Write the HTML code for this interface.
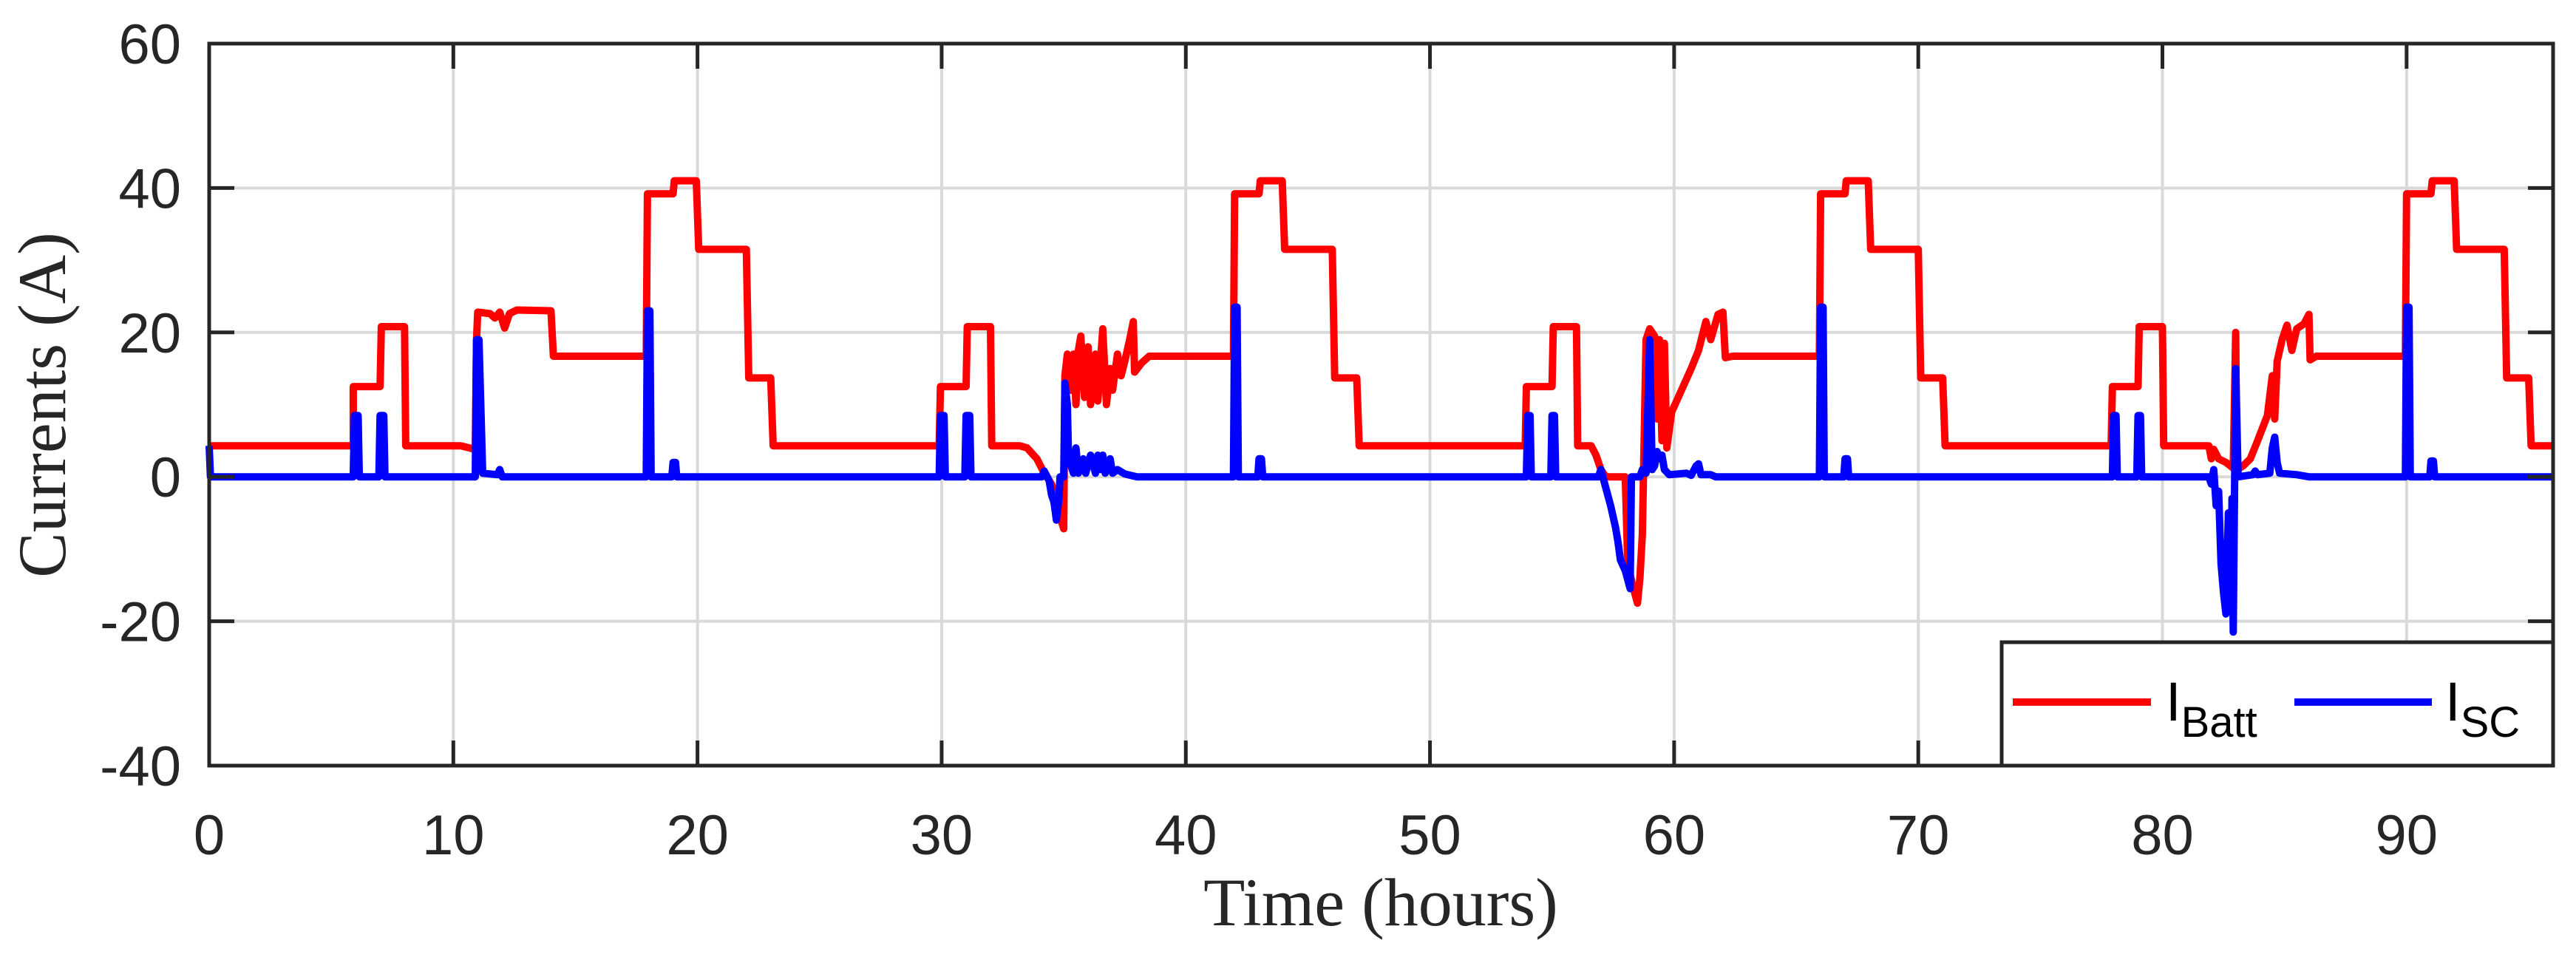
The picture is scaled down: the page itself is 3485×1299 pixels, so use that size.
<!DOCTYPE html>
<html><head><meta charset="utf-8"><style>
html,body{margin:0;padding:0;background:#fff;}
svg{display:block;}
</style></head>
<body>
<svg id="chart" xmlns="http://www.w3.org/2000/svg" width="3485" height="1299" viewBox="0 0 3485 1299">
<rect x="0" y="0" width="3485" height="1299" fill="#fff"/>
<g id="grid"></g>
<g id="series"></g>
<g id="axes"></g>
<text x="1868" y="1252" font-family="Liberation Serif, serif" font-size="92" fill="#262626" text-anchor="middle">Time (hours)</text>
<text transform="translate(88,548) rotate(-90)" x="0" y="0" font-family="Liberation Serif, serif" font-size="92" fill="#262626" text-anchor="middle">Currents (A)</text>
<g>
<rect x="2708" y="869" width="746" height="167" fill="#fff" stroke="#262626" stroke-width="5"/>
<line x1="2723" y1="950" x2="2910" y2="950" stroke="#ff0000" stroke-width="10"/>
<text x="2930" y="975" font-family="Liberation Sans, sans-serif" font-size="74" fill="#000">I<tspan font-size="58" dy="22">Batt</tspan></text>
<line x1="3104" y1="950" x2="3290" y2="950" stroke="#0000ff" stroke-width="10"/>
<text x="3308" y="975" font-family="Liberation Sans, sans-serif" font-size="74" fill="#000">I<tspan font-size="58" dy="22">SC</tspan></text>
</g>
</svg>
<script>
const xTicks = [0,10,20,30,40,50,60,70,80,90];
const yTicks = [-40,-20,0,20,40,60];
const battTime = [0,5.9,5.9,7.0,7.05,8.0,8.05,10.3,10.9,10.95,11.0,11.5,11.7,11.9,12.1,12.3,12.6,14.0,14.1,17.9,17.95,19.0,19.05,19.95,20.05,22.0,22.1,23.0,23.1,29.9,29.95,31,31.05,32,32.05,33.2,33.5,33.9,34.2,34.5,34.6,34.8,35.0,35.05,35.15,35.3,35.4,35.5,35.6,35.7,35.85,36.0,36.1,36.3,36.4,36.6,36.75,36.9,37.0,37.2,37.35,37.5,37.7,37.85,37.9,38.2,38.5,41.95,42,43,43.05,43.95,44.05,46,46.1,47,47.1,53.9,53.95,55,55.05,56,56.05,56.6,56.8,57.0,57.2,58.0,58.1,58.3,58.5,58.6,58.7,58.85,59,59.2,59.3,59.4,59.5,59.6,59.7,59.9,60.3,60.7,61,61.3,61.5,61.8,62.0,62.1,62.4,65.95,66,67,67.05,67.95,68.05,70,70.1,71,71.1,77.9,77.95,79,79.05,80,80.05,81.9,82.0,82.1,82.3,82.6,82.9,83.0,83.05,83.3,83.6,83.9,84.3,84.5,84.6,84.7,84.9,85.1,85.3,85.5,85.8,86.0,86.05,86.3,89.95,90,91,91.05,91.95,92.05,94,94.1,95,95.1,96];
const battCurrent = [4.3,4.3,12.5,12.5,20.8,20.8,4.3,4.3,3.8,19,22.8,22.6,22,22.8,20.6,22.6,23.1,23.0,16.7,16.7,39.2,39.2,41,41,31.5,31.5,13.7,13.7,4.3,4.3,12.5,12.5,20.8,20.8,4.3,4.3,4,2.5,0.5,-1,-2,-5,-7.2,14,17,12,17,10,17.5,19.5,11,18,10,17,10.5,20.5,10,15,12,17,14,16,19,21.5,14.5,15.8,16.7,16.7,39.2,39.2,41,41,31.5,31.5,13.7,13.7,4.3,4.3,12.5,12.5,20.8,20.8,4.3,4.3,3,1,0,0,-12,-15,-17.5,-14,-8,19,20.5,19.5,8,19,5,18.5,4,9,12,15,17.5,21.5,19,22.5,22.8,16.5,16.7,16.7,39.2,39.2,41,41,31.5,31.5,13.7,13.7,4.3,4.3,12.5,12.5,20.8,20.8,4.3,4.3,2.5,3.8,2.5,2,1.2,20,1,1.5,2.5,5,8.5,14,8,16,19,21,17.5,20.5,21.2,22.5,16.2,16.7,16.7,39.2,39.2,41,41,31.5,31.5,13.7,13.7,4.3,4.3];
const scTime = [0,0.05,5.9,5.95,6.1,6.15,6.95,7.0,7.15,7.2,10.9,10.95,11.05,11.2,11.8,11.9,12.0,17.9,17.95,18.05,18.1,18.95,19.0,19.1,19.15,29.9,29.95,30.1,30.15,30.95,31.0,31.15,31.2,34.1,34.2,34.4,34.5,34.6,34.7,34.8,34.85,35.0,35.05,35.15,35.2,35.3,35.4,35.5,35.6,35.8,35.9,36.1,36.3,36.4,36.5,36.6,36.7,36.9,37.0,37.2,37.5,38,41.95,42,42.1,42.15,42.95,43,43.1,43.15,53.95,54.0,54.1,54.15,54.95,55.0,55.1,55.15,56.9,57.0,57.2,57.4,57.6,57.7,57.8,58.0,58.2,58.25,58.6,58.7,58.85,59.0,59.1,59.2,59.3,59.4,59.5,59.6,59.8,60.5,60.7,60.9,61.0,61.1,61.5,61.7,65.95,66,66.1,66.15,66.95,67,67.1,67.15,77.95,78.0,78.1,78.15,78.95,79.0,79.1,79.15,81.9,82.0,82.1,82.2,82.3,82.4,82.5,82.6,82.7,82.8,82.85,82.9,83.0,83.1,83.7,83.8,83.9,84.4,84.5,84.6,84.7,84.8,85.5,86,89.95,90,90.1,90.15,90.95,91,91.1,91.15,96];
const scCurrent = [4.3,0,0,8.5,8.5,0,0,8.5,8.5,0,0,19,19,0.5,0.3,1,0,0,23,23,0,0,2,2,0,0,8.5,8.5,0,0,8.5,8.5,0,0,0.8,-0.5,-2.5,-3.5,-6.0,-3,0,0,13,10,2,1.5,0.5,4,0.5,2.5,0.5,3,0.5,3,1,3,0.5,2.5,0.5,1,0.4,0,0,23.5,23.5,0,0,2.5,2.5,0,0,8.5,8.5,0,0,8.5,8.5,0,0,1,-1.5,-4,-7,-9,-11.5,-13,-15.5,0,0,1,0.5,19,1,1.5,3.5,2.5,3,1,0.3,0.5,0.2,1.5,1.8,0.3,0.3,0,0,23.5,23.5,0,0,2.5,2.5,0,0,8.5,8.5,0,0,8.5,8.5,0,0,-1,1,-4,-2,-12,-16,-19,-5,-18,-3,-21.5,15,0,0.3,0.8,0.3,0.5,4,5.5,2,0.5,0.3,0,0,23.5,23.5,0,0,2.2,2.2,0,0];

const L=283,R=3454,T=59,B=1036;
const xMin=0,xMax=96,yMin=-40,yMax=60;
function xs(v){return L+(v-xMin)/(xMax-xMin)*(R-L);}
function ys(v){return B-(v-yMin)/(yMax-yMin)*(B-T);}
const NS='http://www.w3.org/2000/svg';
function mk(tag,attrs,parent){const e=document.createElementNS(NS,tag);for(const k in attrs)e.setAttribute(k,attrs[k]);parent.appendChild(e);return e;}
const grid=document.getElementById('grid'),axes=document.getElementById('axes'),series=document.getElementById('series');
xTicks.forEach(t=>{
  const g=mk('line',{x1:xs(t),x2:xs(t),y1:T,y2:B,stroke:'#d9d9d9','stroke-width':4},grid);
  
  
  const tk1=mk('line',{x1:xs(t),x2:xs(t),y1:B,y2:B-34,stroke:'#262626','stroke-width':5},axes);
  
  
  const tk2=mk('line',{x1:xs(t),x2:xs(t),y1:T,y2:T+34,stroke:'#262626','stroke-width':5},axes);
  
  
  const lb=mk('text',{x:xs(t),y:1156,'font-family':'Liberation Sans, sans-serif','font-size':76,fill:'#262626','text-anchor':'middle'},axes);
  lb.textContent=t;
  
  
});
yTicks.forEach(t=>{
  const g=mk('line',{x1:L,x2:R,y1:ys(t),y2:ys(t),stroke:'#d9d9d9','stroke-width':4},grid);
  
  
  const tk1=mk('line',{x1:L,x2:L+34,y1:ys(t),y2:ys(t),stroke:'#262626','stroke-width':5},axes);
  
  
  const tk2=mk('line',{x1:R,x2:R-34,y1:ys(t),y2:ys(t),stroke:'#262626','stroke-width':5},axes);
  
  
  const lb=mk('text',{x:245,y:ys(t)+27,'font-family':'Liberation Sans, sans-serif','font-size':76,fill:'#262626','text-anchor':'end'},axes);
  lb.textContent=t;
  
  
});
const frame=mk('rect',{x:L,y:T,width:R-L,height:B-T,fill:'none',stroke:'#262626','stroke-width':5},axes);


function pts(tt,vv){return tt.map((t,i)=>xs(t).toFixed(1)+','+ys(vv[i]).toFixed(1)).join(' ');}
const batt=mk('polyline',{points:pts(battTime,battCurrent),fill:'none',stroke:'#ff0000','stroke-width':10,'stroke-linejoin':'round'},series);


const sc=mk('polyline',{points:pts(scTime,scCurrent),fill:'none',stroke:'#0000ff','stroke-width':10,'stroke-linejoin':'round'},series);


</script>
</body></html>
